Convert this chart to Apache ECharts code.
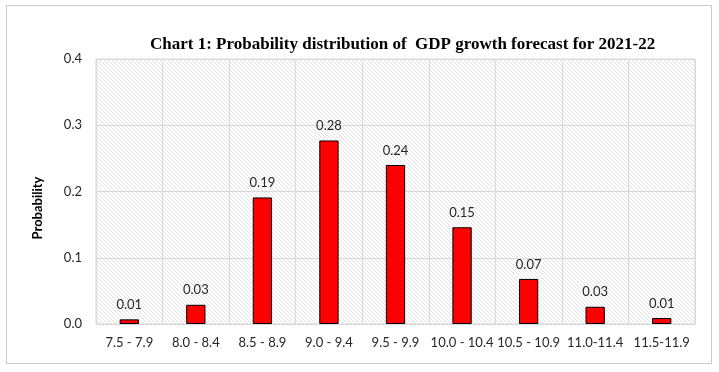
<!DOCTYPE html>
<html>
<head>
<meta charset="utf-8">
<script src="https://cdn.jsdelivr.net/npm/echarts@6/dist/echarts.min.js"></script>
<style>
html,body{margin:0;padding:0;background:#fff;}
#chart{width:719px;height:372px;}
</style>
</head>
<body>
<div id="chart"></div>
<script>
const categories = ['7.5 - 7.9','8.0 - 8.4','8.5 - 8.9','9.0 - 9.4','9.5 - 9.9','10.0 - 10.4','10.5 - 10.9','11.0-11.4','11.5-11.9'];
const probabilities = [0.007, 0.029, 0.191, 0.277, 0.240, 0.146, 0.068, 0.026, 0.009];
const yTicks = [0, 0.1, 0.2, 0.3, 0.4];
const titleText = 'Chart 1: Probability distribution of  GDP growth forecast for 2021-22';
const yAxisTitle = 'Probability';

// hatch pattern
const pc = document.createElement('canvas');
pc.width = 4; pc.height = 4;
const pctx = pc.getContext('2d');
pctx.fillStyle = '#ffffff';
pctx.fillRect(0,0,4,4);
pctx.fillStyle = '#e2e2e2';
for (let i = 0; i < 4; i++) pctx.fillRect(i, i, 1, 1);

const chart = echarts.init(document.getElementById('chart'));
chart.setOption({
  animation: false,
  backgroundColor: '#ffffff',
  title: {
    text: titleText,
    left: 145,
    top: 31,
    textStyle: {fontFamily: 'Liberation Serif', fontWeight: 'bold', fontSize: 17, color: '#000'}
  },
  graphic: [{
    type: 'rect',
    shape: {x: 6.5, y: 5.5, width: 705, height: 358},
    style: {fill: 'none', stroke: '#c8c8c8', lineWidth: 1},
    silent: true
  }, {
    type: 'text',
    x: 38, y: 208,
    rotation: Math.PI / 2,
    style: {
      text: yAxisTitle, align: 'center', verticalAlign: 'middle',
      fontFamily: 'Lato', fontWeight: 'bold', fontSize: 13, fill: '#000'
    },
    silent: true
  }],
  grid: {
    left: 96, right: 24, top: 59, bottom: 48,
    show: true,
    backgroundColor: {image: pc, repeat: 'repeat'},
    borderColor: '#d9d9d9', borderWidth: 1
  },
  xAxis: {
    type: 'category',
    data: categories,
    boundaryGap: true,
    axisLine: {show: true, lineStyle: {color: '#d9d9d9'}},
    axisTick: {show: false},
    splitLine: {show: true, lineStyle: {color: '#d9d9d9', width: 1}},
    axisLabel: {fontFamily: 'Lato', fontSize: 13, color: '#262626', margin: 12, interval: 0}
  },
  yAxis: {
    type: 'value',
    min: yTicks[0], max: yTicks[yTicks.length-1], interval: 0.1,
    axisLine: {show: false},
    axisTick: {show: false},
    splitLine: {show: true, lineStyle: {color: '#d9d9d9', width: 1}},
    axisLabel: {fontFamily: 'Lato', fontSize: 13, color: '#262626', margin: 14, formatter: v => v.toFixed(1)}
  },
  series: [{
    type: 'bar',
    data: probabilities,
    barWidth: '29%',
    itemStyle: {color: '#ff0000', borderColor: '#000', borderWidth: 1},
    label: {
      show: true, position: 'top', distance: 8,
      fontFamily: 'Lato', fontSize: 13, color: '#262626',
      formatter: p => p.value.toFixed(2)
    }
  }]
});
</script>
</body>
</html>
